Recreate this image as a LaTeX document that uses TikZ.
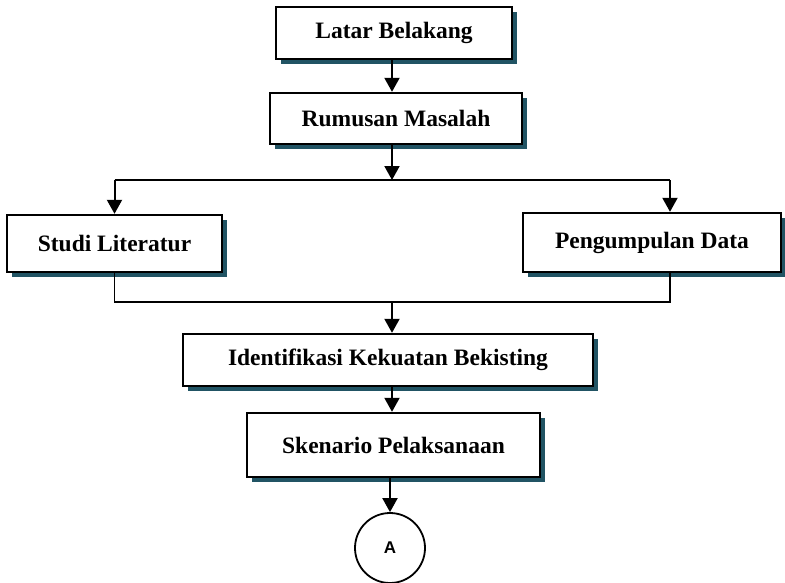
\documentclass[tikz,border=0pt]{standalone}
\usepackage{fontspec}
\setmainfont{Liberation Serif}
\newfontfamily\arialfont{Liberation Sans}
\usetikzlibrary{shadows,arrows.meta}
\definecolor{shadowcol}{RGB}{33,84,100}
\tikzset{
  stepbox/.style={draw=black, line width=2.4pt, fill=white, inner sep=0pt,
    font=\fontsize{23.5}{27}\selectfont\bfseries,
    drop shadow={shadow xshift=4.5pt, shadow yshift=-4.5pt, fill=shadowcol, opacity=1}},
  arr/.style={line width=2pt, -{Triangle[length=14pt, width=15pt]}},
  link/.style={line width=1.6pt},
  conn/.style={draw=black, line width=1.8pt, circle, inner sep=0pt, minimum size=70pt,
    font=\arialfont\fontsize{17}{19}\selectfont\bfseries}
}
\begin{document}
\begin{tikzpicture}[x=1pt, y=-1pt]
\useasboundingbox (0,0) rectangle (785,582);
\node[stepbox, minimum width=236pt, minimum height=52pt] (lb) at (394,33) {Latar Belakang};
\node[stepbox, minimum width=252pt, minimum height=51pt] (rm) at (396,118.5) {Rumusan Masalah};
\node[stepbox, minimum width=215pt, minimum height=57pt] (sl) at (114.5,243.5) {Studi Literatur};
\node[stepbox, minimum width=258pt, minimum height=59pt] (pd) at (652,242.5) {Pengumpulan Data};
\node[stepbox, minimum width=410pt, minimum height=52pt] (ik) at (388,360) {Identifikasi Kekuatan Bekisting};
\node[stepbox, minimum width=293pt, minimum height=64pt] (sp) at (393.5,445) {Skenario Pelaksanaan};
\node[conn] (a) at (390,548) {A};

\coordinate (j1) at (392,180);
\coordinate (jl) at (114.5,180);
\coordinate (jr) at (670,180);
\coordinate (k1) at (392,302);
\coordinate (kl) at (114.5,302);
\coordinate (kr) at (670,302);

\draw[arr] (lb.south -| j1) -- (rm.north -| j1);
\draw[arr] (rm.south -| j1) -- (j1);
\draw[link] (jl) -- (jr);
\draw[arr] (jl) -- (sl.north);
\draw[arr] (jr) -- (jr |- pd.north);
\draw[link] (sl.south) -- (kl) -- (kr) -- (kr |- pd.south);
\draw[arr] (k1) -- (k1 |- ik.north);
\draw[arr] (ik.south -| k1) -- (sp.north -| k1);
\draw[arr] (sp.south -| a) -- (a.north);
\end{tikzpicture}
\end{document}
